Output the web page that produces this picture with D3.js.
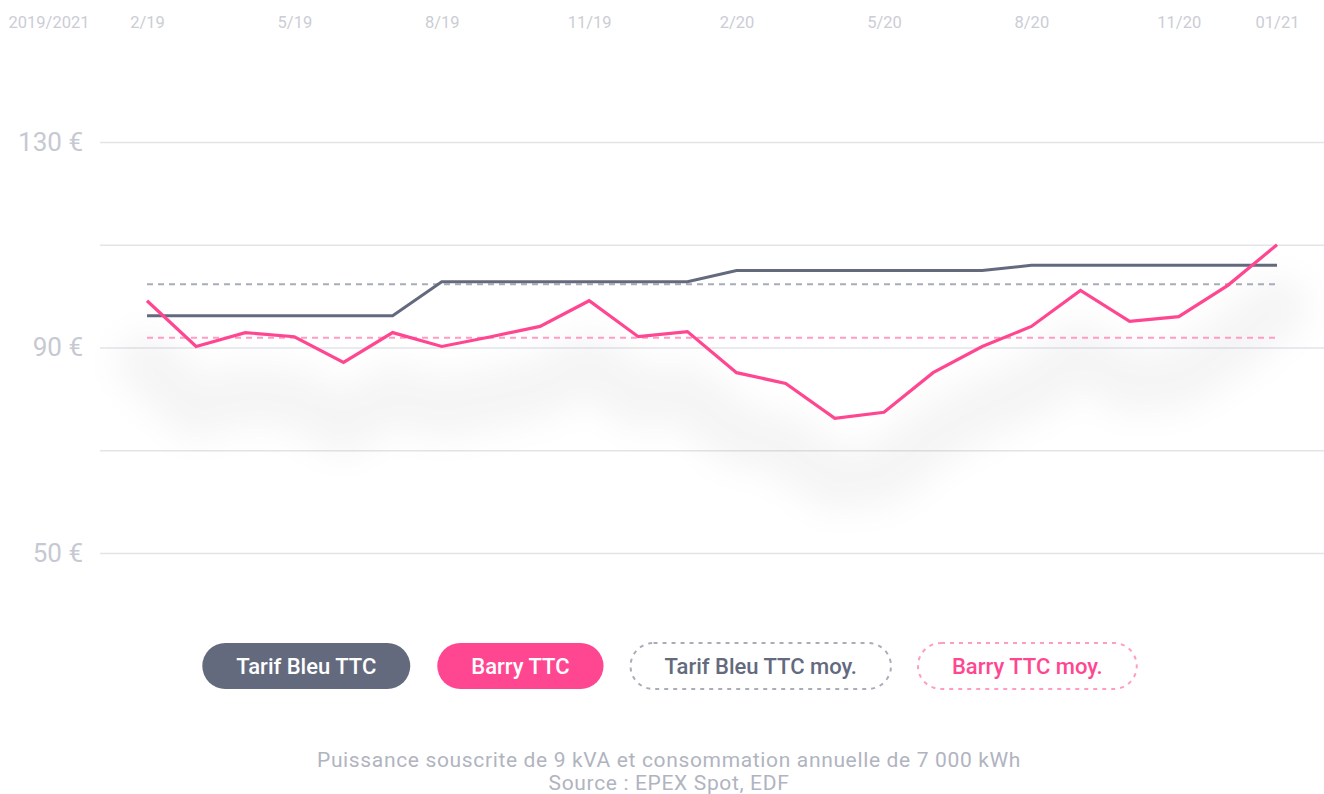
<!DOCTYPE html>
<html>
<head>
<meta charset="utf-8">
<script src="https://cdn.jsdelivr.net/npm/d3@7"></script>
<style>
	body { margin: 0; background: #fff; }
	svg { display: block; font-family: Roboto, sans-serif; }
</style>
</head>
<body>
<svg class="chart"></svg>
<script>
// months Feb 2019 -> Jan 2021
var months = ['2019-02','2019-03','2019-04','2019-05','2019-06','2019-07','2019-08','2019-09',
	'2019-10','2019-11','2019-12','2020-01','2020-02','2020-03','2020-04','2020-05',
	'2020-06','2020-07','2020-08','2020-09','2020-10','2020-11','2020-12','2021-01'];

var tarifBleu = [96.2,96.2,96.2,96.2,96.2,96.2, 102.8,102.8,102.8,102.8,102.8,102.8,
	105,105,105,105,105,105, 106,106,106,106,106,106];
var barry = [99.1,90.2,92.9,92.1,87.1,92.9,90.2,92.1,94.1,99.1,92.1,93.1,
	85.1,83.0,76.2,77.4,85.1,90.2,94.1,101.1,95.1,96.0,102.1,110.0];
var tarifBleuMoy = 102.3;
var barryMoy = 91.9;

var tickMonths = ['2019-02','2019-05','2019-08','2019-11','2020-02','2020-05','2020-08','2020-11','2021-01'];
var tickLabels = ['2/19','5/19','8/19','11/19','2/20','5/20','8/20','11/20','01/21'];
var gridValues = [50, 70, 90, 110, 130];
var labelValues = [50, 90, 130];

var legendNames = ['Tarif Bleu TTC', 'Barry TTC', 'Tarif Bleu TTC moy.', 'Barry TTC moy.'];

var w = 1324, h = 794;
var slate = '#646a7e', pink = '#ff4791';

var svg = d3.select('.chart').attr('width', w).attr('height', h);

var x = d3.scalePoint().domain(months).range([147, 1277]);
var y = d3.scaleLinear().domain([50, 130]).range([553, 142]);

// blur for the soft shadow under the lines
var defs = svg.append('defs');
defs.append('filter')
	.attr('id', 'soft')
	.attr('x', '-20%').attr('y', '-100%').attr('width', '140%').attr('height', '300%')
	.append('feGaussianBlur').attr('stdDeviation', 16);

// grid + y labels
var yAxis = svg.append('g')
	.attr('transform', 'translate(100,0)')
	.call(d3.axisLeft(y)
		.tickValues(gridValues)
		.tickSize(-(w - 100))
		.tickPadding(17)
		.tickFormat(function(d) { return labelValues.indexOf(d) > -1 ? d + ' €' : ''; }));
yAxis.select('.domain').remove();
yAxis.selectAll('line').attr('stroke', '#e3e4e8').attr('stroke-width', 1.5);
yAxis.selectAll('text')
	.attr('fill', '#c6c9d2')
	.attr('font-size', 26)
	.attr('font-weight', 400)
	.attr('font-family', 'Roboto, sans-serif');

// top month labels
var xAxis = svg.append('g')
	.attr('transform', 'translate(0,28)')
	.call(d3.axisTop(x)
		.tickValues(tickMonths)
		.tickSize(0)
		.tickPadding(0)
		.tickFormat(function(d) { return tickLabels[tickMonths.indexOf(d)]; }));
xAxis.select('.domain').remove();
xAxis.selectAll('text')
	.attr('fill', '#cbcdd5')
	.attr('font-size', 16.5)
	.attr('font-family', 'Roboto, sans-serif');

svg.append('text')
	.attr('x', 49).attr('y', 28)
	.attr('text-anchor', 'middle')
	.attr('fill', '#cbcdd5')
	.attr('font-size', 16.5)
	.text('2019/2021');

var line = d3.line()
	.x(function(d, i) { return x(months[i]); })
	.y(function(d) { return y(d); });

// shadow
svg.append('path')
	.datum(barry)
	.attr('d', line)
	.attr('transform', 'translate(0,62)')
	.attr('fill', 'none')
	.attr('stroke', '#000')
	.attr('stroke-opacity', 0.04)
	.attr('stroke-width', 60)
	.attr('stroke-linejoin', 'round')
	.attr('stroke-linecap', 'round')
	.attr('filter', 'url(#soft)');

// averages
svg.append('line')
	.attr('x1', x(months[0])).attr('x2', x(months[months.length - 1]))
	.attr('y1', y(tarifBleuMoy)).attr('y2', y(tarifBleuMoy))
	.attr('stroke', '#a9adba').attr('stroke-width', 2)
	.attr('stroke-dasharray', '6,5');

svg.append('line')
	.attr('x1', x(months[0])).attr('x2', x(months[months.length - 1]))
	.attr('y1', y(barryMoy)).attr('y2', y(barryMoy))
	.attr('stroke', '#ff9cc3').attr('stroke-width', 2)
	.attr('stroke-dasharray', '6,5');

svg.append('path')
	.datum(tarifBleu)
	.attr('d', line)
	.attr('fill', 'none')
	.attr('stroke', slate)
	.attr('stroke-width', 3);

svg.append('path')
	.datum(barry)
	.attr('d', line)
	.attr('fill', 'none')
	.attr('stroke', pink)
	.attr('stroke-width', 3.2)
	.attr('stroke-linejoin', 'miter');

// legend pills
var legendStyle = [
	{fill: slate, stroke: 'none', text: '#fff', dash: null},
	{fill: pink, stroke: 'none', text: '#fff', dash: null},
	{fill: '#fff', stroke: '#a9adba', text: slate, dash: '4,5'},
	{fill: '#fff', stroke: '#ff9cc3', text: pink, dash: '4,5'}
];
var pillH = 46, padX = 34, gap = 27, cy = 666;
var legend = svg.append('g');
var items = legend.selectAll('g').data(legendNames).enter().append('g');
items.append('text')
	.attr('text-anchor', 'middle')
	.attr('dy', '0.35em')
	.attr('font-size', 22)
	.attr('font-weight', 500)
	.attr('fill', function(d, i) { return legendStyle[i].text; })
	.text(function(d) { return d; });

var widths = [];
items.select('text').each(function() { widths.push(this.getComputedTextLength() + padX * 2); });
var total = d3.sum(widths) + gap * (widths.length - 1);
var start = 669.5 - total / 2;
var pos = 0;
items.each(function(d, i) {
	var g = d3.select(this);
	var left = start + pos;
	pos += widths[i] + gap;
	g.insert('rect', 'text')
		.attr('x', left).attr('y', cy - pillH / 2)
		.attr('width', widths[i]).attr('height', pillH)
		.attr('rx', pillH / 2)
		.attr('fill', legendStyle[i].fill)
		.attr('stroke', legendStyle[i].stroke)
		.attr('stroke-width', 2)
		.attr('stroke-dasharray', legendStyle[i].dash);
	g.select('text').attr('x', left + widths[i] / 2).attr('y', cy);
});

// footer
var footer = ['Puissance souscrite de 9 kVA et consommation annuelle de 7 000 kWh', 'Source : EPEX Spot, EDF'];
svg.selectAll('.foot').data(footer).enter().append('text')
	.attr('class', 'foot')
	.attr('x', 669).attr('y', function(d, i) { return 767 + i * 23; })
	.attr('text-anchor', 'middle')
	.attr('fill', '#b1b4bf')
	.attr('font-size', 21)
	.attr('letter-spacing', 0.65)
	.text(function(d) { return d; });
</script>
</body>
</html>
